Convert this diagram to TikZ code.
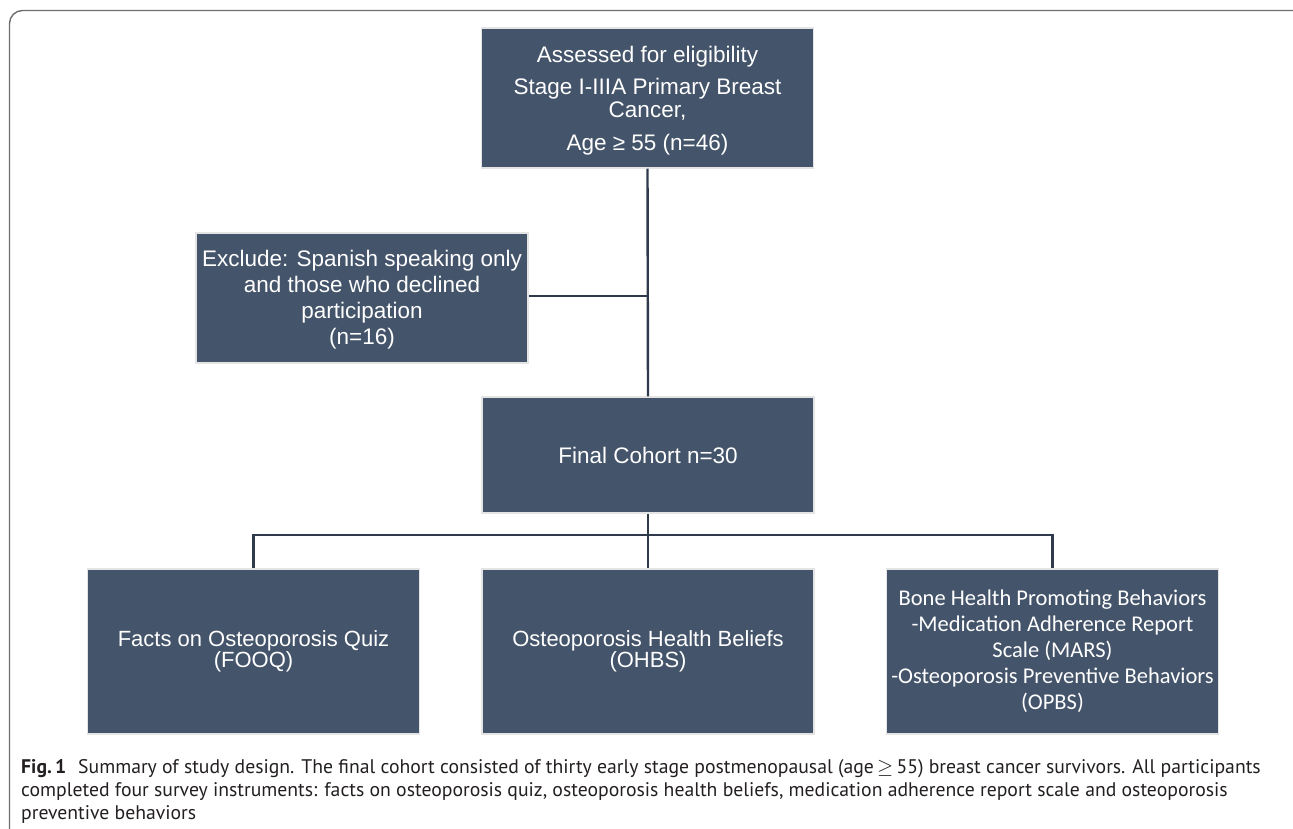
\documentclass[tikz,border=0pt]{standalone}
\usepackage{fontspec}
\setmainfont{Liberation Sans}
\newfontfamily\calfont{Carlito}
\newfontfamily\capfont{PT Sans}
\definecolor{boxc}{HTML}{44546A}
\definecolor{bordc}{HTML}{E4E4E4}
\definecolor{linec}{HTML}{2F3B4C}
\definecolor{framec}{HTML}{6E6E6E}
\definecolor{capc}{HTML}{231F20}
\begin{document}
\begin{tikzpicture}[x=1pt,y=-1pt,
  box/.style={fill=boxc, draw=bordc, line width=1.5pt, text=white, align=center,
    inner sep=0pt, minimum width=332pt, font=\fontsize{22.5}{26}\selectfont},
  conn/.style={draw=linec, line width=2.4pt},
  frameline/.style={draw=framec, line width=1.4pt}]
\useasboundingbox (0,0) rectangle (1293,829);
\begin{scope}
\clip (0,0) rectangle (1293,829);
\draw[frameline, rounded corners=13pt] (9.5,10.5) rectangle (1310,845);
\end{scope}

\node[box, minimum height=140pt, font=\fontsize{22.5}{23}\selectfont] (top) at (647.5,98)
  {\rule{0pt}{22pt}Assessed for eligibility\\[9pt]Stage I-IIIA Primary Breast\\Cancer,\\[10pt]Age ≥ 55 (n=46)};
\node[box, minimum height=130pt] (excl) at (362,298)
  {\rule{0pt}{20pt}Exclude: Spanish speaking only\\and those who declined\\participation\\(n=16)};
\node[box, minimum height=116pt] (final) at (648,455) {Final Cohort n=30};
\node[box, minimum height=165pt, font=\fontsize{22}{20}\selectfont] (fooq) at (253.5,651.5)
  {Facts on Osteoporosis Quiz\\(FOOQ)};
\node[box, minimum height=165pt, font=\fontsize{22}{20}\selectfont] (ohbs) at (648,651.5)
  {Osteoporosis Health Beliefs\\(OHBS)};
\node[box, minimum height=165pt, font=\calfont\fontsize{22.5}{26}\selectfont] (bone) at (1052.5,651.5)
  {Bone Health Promoting Behaviors\\-Medication Adherence Report\\Scale (MARS)\\-Osteoporosis Preventive Behaviors\\(OPBS)};

\coordinate (bx) at (648,296);
\coordinate (br) at (648,535);
\draw[conn] (top.south) -- (final.north);
\draw[conn] (excl.east |- bx) -- (bx);
\draw[conn] (final.south) -- (br);
\draw[conn] (fooq.north) |- (br) -| (bone.north);
\draw[conn] (br) -- (ohbs.north);

\node[anchor=north west, inner sep=0pt, align=left, text=capc,
  font=\capfont\fontsize{19.7}{23}\selectfont] (cap) at (21,759)
  {\textbf{Fig.\,1}\hspace{0.6em}Summary of study design. The final cohort consisted of thirty early stage postmenopausal (age\,$\geq$\,55) breast cancer survivors. All participants\\
   completed four survey instruments: facts on osteoporosis quiz, osteoporosis health beliefs, medication adherence report scale and osteoporosis\\
   preventive behaviors};
\end{tikzpicture}
\end{document}
